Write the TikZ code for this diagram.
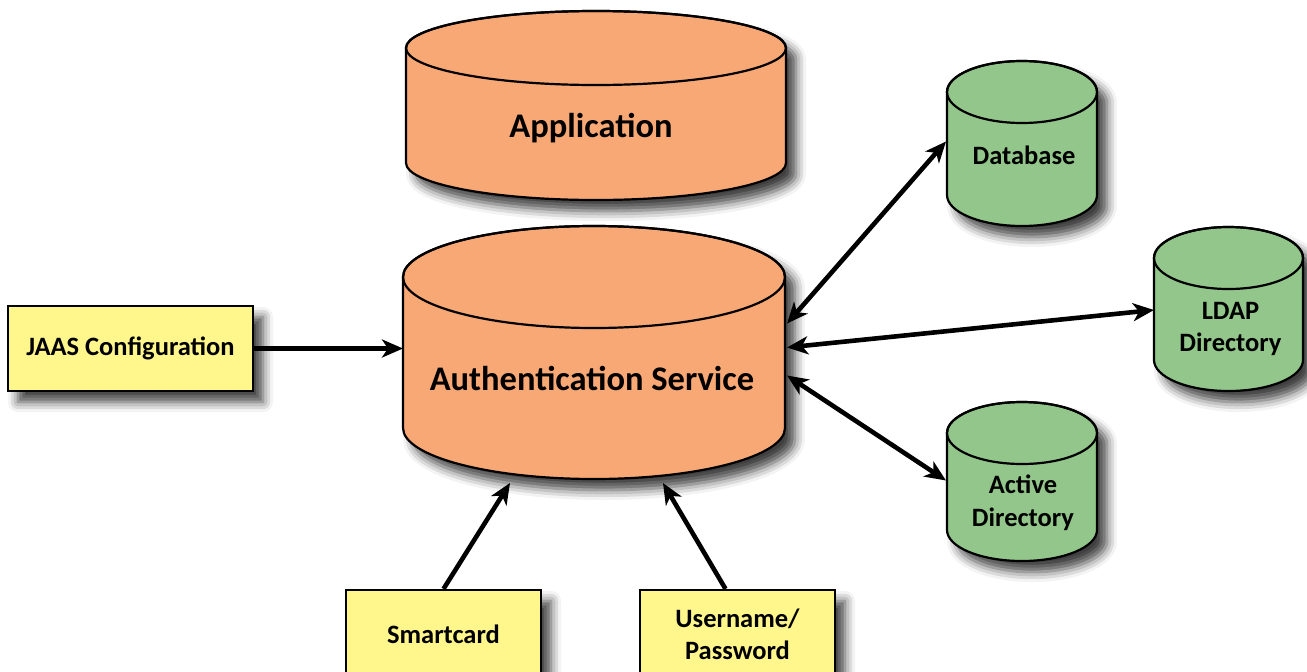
\documentclass[tikz,border=0pt]{standalone}
\usepackage{fontspec}
\setmainfont{Carlito}
\usetikzlibrary{arrows.meta,calc,shadows.blur}

\definecolor{corefill}{HTML}{F8A874}
\definecolor{storefill}{HTML}{93C68A}
\definecolor{inputfill}{HTML}{FFF68C}

\tikzset{
  softshadow/.style={blur shadow={shadow xshift=10pt, shadow yshift=-11pt,
      shadow blur radius=10pt, shadow opacity=75}},
  cylbody/.style={draw=black, line width=2.2pt, line join=round, softshadow},
  cylrim/.style={draw=black, line width=2.2pt},
  area/.style={inner sep=0pt, outer sep=0pt},
  bigtext/.style={font=\bfseries\fontsize{34.5}{38}\selectfont, inner sep=0pt},
  smalltext/.style={font=\bfseries\fontsize{26.5}{32.5}\selectfont, align=center, inner sep=0pt},
  inputbox/.style={draw=black, line width=2.2pt, fill=inputfill, softshadow,
      font=\bfseries\fontsize{26.5}{32}\selectfont, align=center, inner sep=0pt},
  tip/.tip={Stealth[length=21pt, width=18pt, inset=6pt]},
  flow/.style={line width=4.6pt, -tip},
  twoway/.style={line width=4.6pt, tip-tip}
}

% cylinder: centre x, top-rim y, bottom-rim y, x radius, y radius, fill
\newcommand\drumshape[6]{%
  \path[cylbody, fill=#6] (#1-#4,-#2) -- (#1-#4,-#3)
    arc[start angle=180, end angle=360, x radius=#4, y radius=#5]
    -- (#1+#4,-#2)
    arc[start angle=0, end angle=180, x radius=#4, y radius=#5] -- cycle;
  \draw[cylrim] (#1,-#2) ellipse[x radius=#4, y radius=#5];
}

\begin{document}
\begin{tikzpicture}[x=1pt,y=1pt]
\useasboundingbox (0,0) rectangle (1307,-672);

% central stores
\drumshape{596}{48}{163}{190}{37}{corefill}
\drumshape{594}{277}{428}{191}{51}{corefill}

% back-end stores
\drumshape{1022}{92}{195}{75}{31}{storefill}
\drumshape{1228.5}{258}{360}{74.5}{31}{storefill}
\drumshape{1022}{433}{530}{75}{31}{storefill}

% areas covered by each store
\node[area, minimum width=382pt, minimum height=190pt] (app)  at (596,-106) {};
\node[area, minimum width=382pt, minimum height=253pt] (auth) at (594,-353.5) {};
\node[area, minimum width=150pt, minimum height=165pt] (db)   at (1022,-143.5) {};
\node[area, minimum width=149pt, minimum height=164pt] (ldap) at (1228.5,-309) {};
\node[area, minimum width=150pt, minimum height=159pt] (ad)   at (1022,-481.5) {};

% store labels
\node[bigtext, anchor=base] (applbl)  at (591,-137) {Application};
\node[bigtext, anchor=base] (authlbl) at (592,-390) {Authentication Service};
\node[smalltext, anchor=base] (dblbl) at (1024,-164) {Database};
\node[smalltext] (ldaplbl) at (1230.5,-329) {LDAP\\Directory};
\node[smalltext] (adlbl)   at (1023,-503) {Active\\Directory};

% inputs
\node[inputbox, minimum width=245pt, minimum height=85pt] (jaas)  at (130.5,-348.5) {JAAS Configuration};
\node[inputbox, minimum width=195pt, minimum height=88pt] (smart) at (443.5,-634) {Smartcard};
\node[inputbox, minimum width=195pt, minimum height=88pt] (user)  at (737.5,-634) {Username/\\Password};

% connectors
\draw[flow] (jaas.east) -- (jaas.east -| auth.west);
\draw[flow] (smart.north) -- ($(auth.south)+(-84,-3)$);
\draw[flow] ($(user.north)+(-12,0)$) -- ($(auth.south)+(69,-3)$);
\draw[twoway] ($(auth.east)+(2,30)$) -- ($(db.west)+(-1,2)$);
\draw[twoway] ($(auth.east)+(2,6)$) -- ($(ldap.west)+(0,-1)$);
\draw[twoway] ($(auth.east)+(2,-22)$) -- ($(ad.west)+(-1,1)$);
\end{tikzpicture}
\end{document}
